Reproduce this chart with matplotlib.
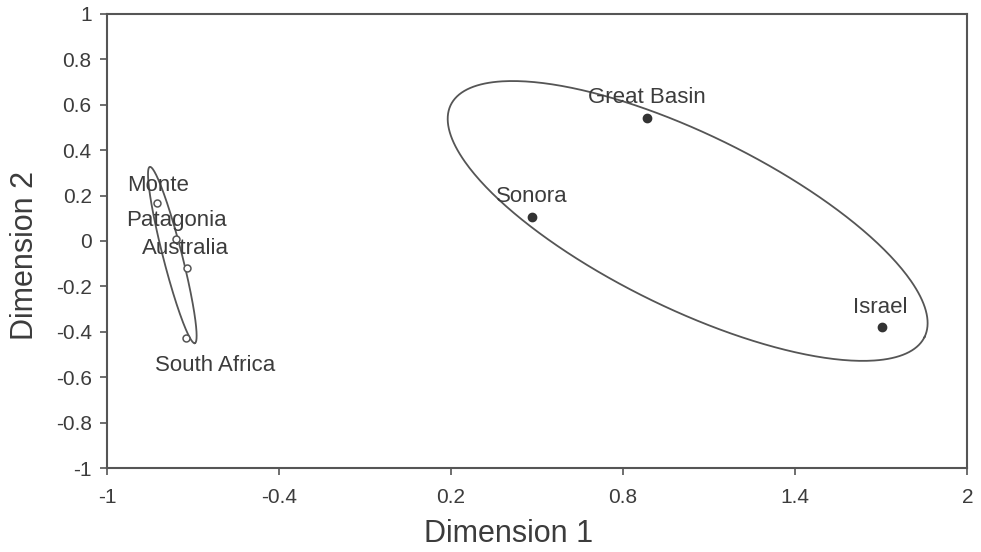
import numpy as np
import matplotlib.pyplot as plt

plt.rcParams["font.family"] = ["Liberation Sans", "DejaVu Sans"]

# Data
sites = ["Great Basin", "Sonora", "Israel", "Monte", "Patagonia", "Australia", "South Africa"]
dim1 = [0.883, 0.482, 1.703, -0.826, -0.759, -0.721, -0.724]
dim2 = [0.542, 0.106, -0.379, 0.167, 0.009, -0.119, -0.427]
group = ["north", "north", "north", "south", "south", "south", "south"]

# Label offsets (pixels) relative to each point
label_dx = [0, 0, -2, 1, 0, -1, 29]
label_dy = [20, 20, 20, 18, 18, 19, -28]

# Group ellipses: center, semi-major vector, semi-minor vector (data units)
ell_center = {"north": (1.025, 0.088), "south": (-0.772, -0.062)}
ell_major = {"north": (0.826, -0.511), "south": (0.0785, -0.388)}
ell_minor = {"north": (0.1336, 0.344), "south": (0.032, 0.0103)}

line_col = "#555555"
text_col = "#3c3c3c"

fig = plt.figure(figsize=(9.81, 5.52), dpi=100)
ax = fig.add_axes([0.109, 0.152, 0.877, 0.823])

t = np.linspace(0, 2 * np.pi, 400)
for g in ["north", "south"]:
    cx, cy = ell_center[g]
    mx, my = ell_major[g]
    nx, ny = ell_minor[g]
    ax.plot(cx + mx * np.cos(t) + nx * np.sin(t),
            cy + my * np.cos(t) + ny * np.sin(t),
            color=line_col, lw=1.3)

for name, x, y, g, dx, dy in zip(sites, dim1, dim2, group, label_dx, label_dy):
    if g == "north":
        ax.plot(x, y, "o", ms=6, color="#333333", zorder=3)
    else:
        ax.plot(x, y, "o", ms=5, mfc="white", mec=line_col, mew=1.1, zorder=3)
    ax.annotate(name, (x, y), xytext=(dx, dy), textcoords="offset pixels",
                ha="center", va="center", fontsize=16, color=text_col)

ax.set_xlim(-1, 2)
ax.set_ylim(-1, 1)
ax.set_xticks([-1, -0.4, 0.2, 0.8, 1.4, 2])
ax.set_xticklabels(["-1", "-0.4", "0.2", "0.8", "1.4", "2"])
ax.set_yticks(np.round(np.arange(-1, 1.01, 0.2), 1))
ax.set_yticklabels(["-1", "-0.8", "-0.6", "-0.4", "-0.2", "0",
                    "0.2", "0.4", "0.6", "0.8", "1"])
ax.tick_params(labelsize=15, colors=line_col, labelcolor=text_col,
               length=5, width=1.2, pad=6)
ax.tick_params(axis="x", pad=9)

for s in ax.spines.values():
    s.set_color(line_col)
    s.set_linewidth(1.5)

ax.set_xlabel("Dimension 1", fontsize=22, color=text_col)
ax.set_ylabel("Dimension 2", fontsize=22, color=text_col)
ax.xaxis.set_label_coords(0.467, -0.113)
ax.yaxis.set_label_coords(-0.078, 0.469)

fig.savefig("out.png", dpi=100, facecolor="white")
